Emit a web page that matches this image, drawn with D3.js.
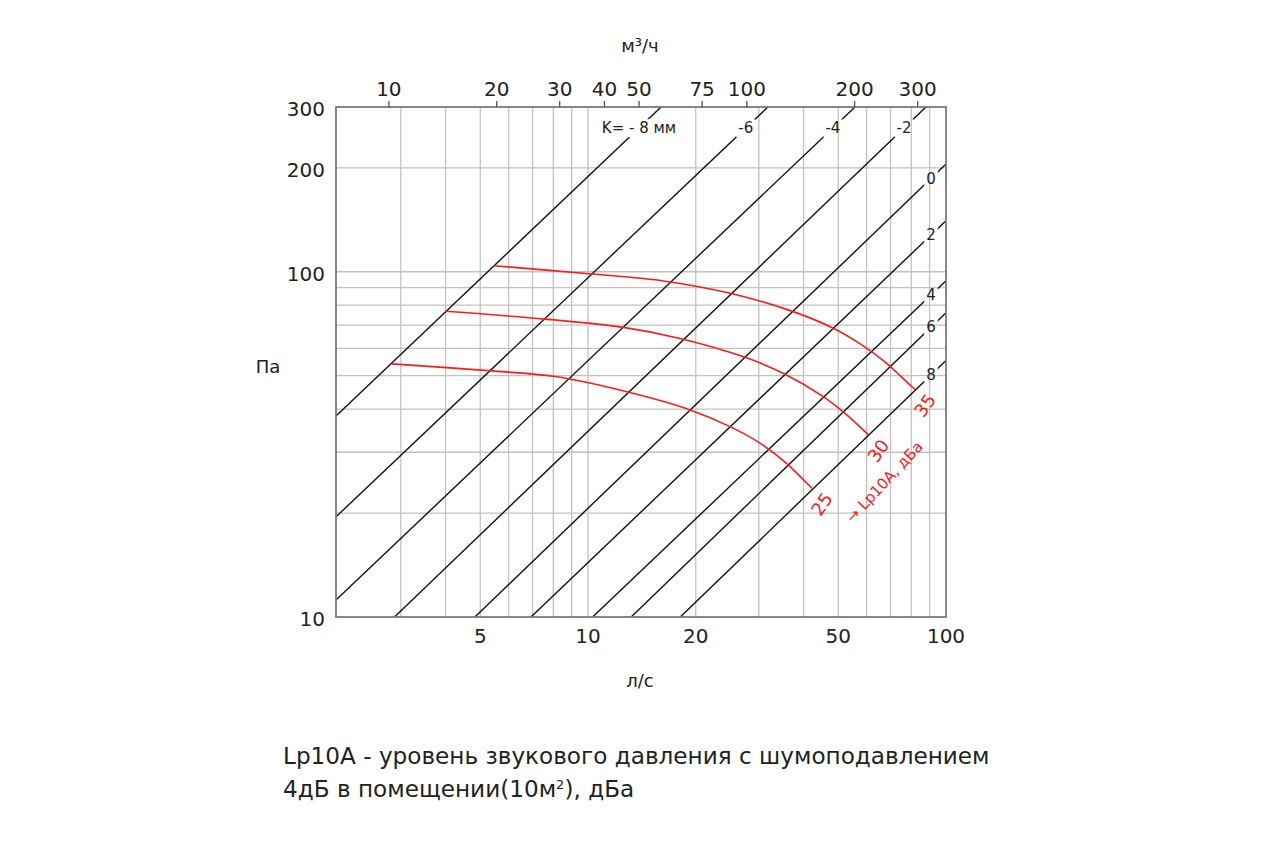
<!DOCTYPE html>
<html>
<head>
<meta charset="utf-8">
<script src="https://cdn.jsdelivr.net/npm/d3@7"></script>
<style>
  body { margin: 0; background: #fff; }
  text { font-family: "DejaVu Sans", "Noto Sans", sans-serif; fill: #222; }
</style>
</head>
<body>
<svg id="chart" width="1280" height="850"></svg>
<script>
// подписи и сетка осей
var flowTicks = [5, 10, 20, 50, 100];                 // л/с, снизу
var flowGrid = [3, 4, 5, 6, 7, 8, 9, 10, 20, 30, 40, 50, 60, 70, 80, 90];
var m3hTicks = [10, 20, 30, 40, 50, 75, 100, 200, 300]; // м³/ч, сверху
var paTicks = [10, 100, 200, 300];
var paGrid = [20, 30, 40, 50, 60, 70, 80, 90, 100, 200];

// линии K (мм): начало и конец [л/с, Па]
var kNames = ["K= - 8 мм", "-6", "-4", "-2", "0", "2", "4", "6", "8"];
var kStart = [[1.977, 38.2], [1.977, 19.5], [1.977, 11.2], [2.88, 10], [4.83, 10],
              [6.93, 10], [10.3, 10], [13.2, 10], [18.1, 10]];
var kEnd = [[16.0, 300], [31.8, 300], [55.7, 300], [87.9, 300], [100, 205],
            [100, 140.5], [100, 94.2], [100, 76.1], [100, 55.3]];

// кривые Lp10A, дБА
var lpNames = ["35", "30", "25"];
var lp35 = [[5.44, 104.1], [10.24, 98.5], [16.06, 94.2], [24.93, 86.6], [37.07, 76.9],
            [48.43, 68.6], [58.0, 61.5], [67.5, 54.8], [75.0, 49.6], [81.9, 45.6]];
var lp30 = [[4.0, 76.8], [7.58, 72.9], [12.55, 69.0], [18.07, 64.1], [27.45, 56.5],
            [35.5, 50.5], [45.4, 43.5], [52.2, 38.9], [60.7, 33.7]];
var lp25 = [[2.83, 54.1], [5.26, 51.7], [8.09, 49.7], [12.83, 44.9], [19.27, 39.8],
            [24.93, 35.6], [30.2, 31.9], [35.5, 28.1], [42.2, 23.6]];
var lpCurves = [lp35, lp30, lp25];

var svg = d3.select("#chart");
var pLeft = 336, pRight = 946, pTop = 107, pBottom = 617;

var x = d3.scaleLog().domain([1.977, 100]).range([pLeft, pRight]);
var y = d3.scaleLog().domain([10, 300]).range([pBottom, pTop]);

// сетка
svg.append("g").selectAll("line").data(flowGrid).enter().append("line")
    .attr("x1", function(d) { return x(d); }).attr("x2", function(d) { return x(d); })
    .attr("y1", pTop).attr("y2", pBottom)
    .attr("stroke", "#c2c2c2").attr("stroke-width", 1.3);
svg.append("g").selectAll("line").data(paGrid).enter().append("line")
    .attr("y1", function(d) { return y(d); }).attr("y2", function(d) { return y(d); })
    .attr("x1", pLeft).attr("x2", pRight)
    .attr("stroke", "#c2c2c2").attr("stroke-width", 1.3);

// точка на линии K (интерполяция в логарифмах)
function qAtP(i, p) {
    var a = kStart[i], b = kEnd[i];
    var t = (Math.log(p) - Math.log(a[1])) / (Math.log(b[1]) - Math.log(a[1]));
    return Math.exp(Math.log(a[0]) + t * (Math.log(b[0]) - Math.log(a[0])));
}
function pAtQ(i, q) {
    var a = kStart[i], b = kEnd[i];
    var t = (Math.log(q) - Math.log(a[0])) / (Math.log(b[0]) - Math.log(a[0]));
    return Math.exp(Math.log(a[1]) + t * (Math.log(b[1]) - Math.log(a[1])));
}

// позиции подписей K
var kLabelPos = kNames.map(function(n, i) {
    if (i < 4) {
        var p = y.invert(pTop + 21);
        return [x(qAtP(i, p)), pTop + 21];
    }
    var q = x.invert(pRight - 15);
    return [pRight - 15, y(pAtQ(i, q))];
});

// маска, чтобы линии K прерывались под подписями
var defs = svg.append("defs");
var mask = defs.append("mask").attr("id", "kmask").attr("maskUnits", "userSpaceOnUse")
    .attr("x", 0).attr("y", 0).attr("width", 1280).attr("height", 850);
mask.append("rect").attr("width", 1280).attr("height", 850).attr("fill", "#fff");

var kLineGroup = svg.append("g").attr("mask", "url(#kmask)");

var kLabels = svg.append("g").selectAll("text").data(kNames).enter().append("text")
    .attr("x", function(d, i) { return kLabelPos[i][0]; })
    .attr("y", function(d, i) { return kLabelPos[i][1]; })
    .attr("dy", "0.35em")
    .attr("text-anchor", "middle")
    .style("font-size", "15px")
    .text(function(d) { return d; });

kLabels.each(function() {
    var bb = this.getBBox();
    mask.append("rect")
        .attr("x", bb.x - 2).attr("y", bb.y)
        .attr("width", bb.width + 4).attr("height", bb.height)
        .attr("fill", "#000");
});

// линии K
kLineGroup.selectAll("line").data(kNames).enter().append("line")
    .attr("x1", function(d, i) { return x(kStart[i][0]); })
    .attr("y1", function(d, i) { return y(kStart[i][1]); })
    .attr("x2", function(d, i) { return x(kEnd[i][0]); })
    .attr("y2", function(d, i) { return y(kEnd[i][1]); })
    .attr("stroke", "#111").attr("stroke-width", 1.4);

// рамка
svg.append("rect")
    .attr("x", pLeft).attr("y", pTop)
    .attr("width", pRight - pLeft).attr("height", pBottom - pTop)
    .attr("fill", "none").attr("stroke", "#7a7a7a").attr("stroke-width", 1.8);

// кривые шума
var line = d3.line()
    .x(function(d) { return x(d[0]); })
    .y(function(d) { return y(d[1]); })
    .curve(d3.curveCatmullRom.alpha(0.5));

svg.append("g").selectAll("path").data(lpCurves).enter().append("path")
    .attr("d", line)
    .attr("fill", "none").attr("stroke", "#ff1a1a").attr("stroke-width", 1.6);

svg.append("g").selectAll("text").data(lpNames).enter().append("text")
    .attr("transform", function(d, i) {
        var e = lpCurves[i][lpCurves[i].length - 1];
        return "translate(" + (x(e[0]) + 10) + "," + (y(e[1]) + 16) + ") rotate(-55)";
    })
    .attr("dy", "0.35em")
    .attr("text-anchor", "middle")
    .style("font-size", "18px").style("fill", "#ff1a1a")
    .text(function(d) { return d; });

var e30 = lp30[lp30.length - 1];
svg.append("text")
    .attr("transform", "translate(" + (x(e30[0]) + 16) + "," + (y(e30[1]) + 47) + ") rotate(-47)")
    .attr("dy", "0.35em")
    .attr("text-anchor", "middle")
    .style("font-size", "15px").style("fill", "#ff1a1a")
    .text("→ Lp10A, дБа");

// оси: подписи
svg.append("g").selectAll("text").data(flowTicks).enter().append("text")
    .attr("x", function(d) { return x(d); })
    .attr("y", pBottom + 19)
    .attr("dy", "0.35em")
    .attr("text-anchor", "middle")
    .style("font-size", "20px")
    .text(function(d) { return d; });

svg.append("g").selectAll("line").data(m3hTicks).enter().append("line")
    .attr("x1", function(d) { return x(d / 3.6); }).attr("x2", function(d) { return x(d / 3.6); })
    .attr("y1", pTop).attr("y2", pTop - 6)
    .attr("stroke", "#555").attr("stroke-width", 1.3);

svg.append("g").selectAll("text").data(m3hTicks).enter().append("text")
    .attr("x", function(d) { return x(d / 3.6); })
    .attr("y", pTop - 18)
    .attr("dy", "0.35em")
    .attr("text-anchor", "middle")
    .style("font-size", "20px")
    .text(function(d) { return d; });

svg.append("g").selectAll("text").data(paTicks).enter().append("text")
    .attr("x", pLeft - 11)
    .attr("y", function(d) { return y(d) + 2; })
    .attr("dy", "0.35em")
    .attr("text-anchor", "end")
    .style("font-size", "20px")
    .text(function(d) { return d; });

svg.append("text").attr("x", 640).attr("y", 46).attr("dy", "0.35em")
    .attr("text-anchor", "middle").style("font-size", "18px").text("м³/ч");
svg.append("text").attr("x", 640).attr("y", 681).attr("dy", "0.35em")
    .attr("text-anchor", "middle").style("font-size", "18px").text("л/с");
svg.append("text").attr("x", 268).attr("y", 367).attr("dy", "0.35em")
    .attr("text-anchor", "middle").style("font-size", "18px").text("Па");

// пояснение
var t1 = svg.append("text").attr("x", 283).attr("y", 764).style("font-size", "22px")
    .text("Lp10A - уровень звукового давления с шумоподавлением");
var t2 = svg.append("text").attr("x", 283).attr("y", 797).style("font-size", "22px");
t2.append("tspan").text("4дБ в помещении(10м");
t2.append("tspan").attr("dy", -8).style("font-size", "13px").text("2");
t2.append("tspan").attr("dy", 8).text("), дБа");

var len = t1.node().getComputedTextLength();
var fs = Math.max(18, Math.min(26, 22 * 707 / len));
t1.style("font-size", fs + "px");
t2.style("font-size", fs + "px");
</script>
</body>
</html>
